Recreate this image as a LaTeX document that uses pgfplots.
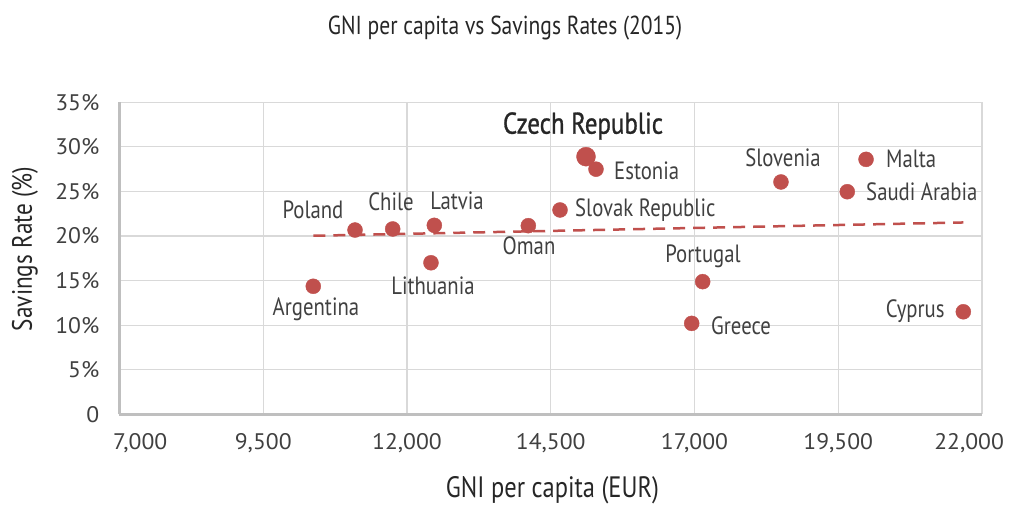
\documentclass[border=0pt]{standalone}
\usepackage{fontspec}
\setmainfont{PT Sans}[FakeStretch=0.83]
\newfontfamily\tickfont{PT Sans}[FakeStretch=1.05]
\newfontfamily\medfont{PT Sans}[FakeStretch=0.83, FakeBold=1]
\usepackage{pgfplots}
\pgfplotsset{compat=1.18}
\definecolor{dotred}{HTML}{C0504D}
\definecolor{txt}{HTML}{404040}
\definecolor{ttl}{HTML}{262626}
\definecolor{gridc}{HTML}{D9D9D9}
\definecolor{axc}{HTML}{BFBFBF}
\newcommand{\lab}{\fontsize{25}{29}\selectfont}
\newcommand{\tck}{\tickfont\fontsize{22.5}{26}\selectfont}
\begin{document}
\begin{tikzpicture}[x=1pt,y=1pt]
\useasboundingbox (-119.5,-90.7) rectangle (891.5,414.3);
\begin{axis}[
  scale only axis, width=862.5pt, height=312pt,
  xmin=7000, xmax=22000, ymin=0, ymax=35,
  scaled x ticks=false, scaled y ticks=false,
  xtick={7000,9500,12000,14500,17000,19500,22000},
  ytick={0,5,10,15,20,25,30,35},
  xticklabels={{\hphantom{7,00}7,000},{9,500},{12,000},{14,500},{17,000},{19,500},{22,000\hphantom{00}}},
  yticklabels={0,5\%,10\%,15\%,20\%,25\%,30\%,35\%},
  axis lines=left,
  axis line style={-, axc, line width=2.5pt},
  grid=major,
  major grid style={gridc, line width=1.2pt},
  major tick length=0pt,
  xticklabel style={font=\tck, text=txt, inner sep=0pt, anchor=north, yshift=-19pt},
  yticklabel style={font=\tck, text=txt, inner sep=0pt, anchor=east, xshift=-20pt},
  clip=false,
]
\addplot[dotred, dash pattern=on 12pt off 8pt, line width=2.5pt] coordinates {(10370,20.03) (21675,21.52)};
\addplot[only marks, mark=*, mark size=7.5pt, mark options={draw=dotred, fill=dotred}] coordinates {
(10370,14.36) (11096,20.67) (11751,20.79) (12475,21.2) (12417,17.0)
(14110,21.16) (14661,22.92) (15287,27.5) (18504,26.06) (19983,28.6)
(19657,24.97) (17142,14.88) (16951,10.2) (21675,11.5)};
\addplot[only marks, mark=*, mark size=9.5pt, mark options={draw=dotred, fill=dotred}] coordinates {(15113,28.9)};
\begin{scope}[every node/.style={font=\lab, text=txt, inner sep=0pt}]
\node at (axis cs:10417,11.81) {Argentina};
\node at (axis cs:10365,22.93) {Poland};
\node at (axis cs:11722,23.83) {Chile};
\node at (axis cs:12870,23.95) {Latvia};
\node at (axis cs:12452,14.39) {Lithuania};
\node at (axis cs:14122,18.88) {Oman};
\node[anchor=west] at (axis cs:14922,22.92) {Slovak Republic};
\node[anchor=west] at (axis cs:15600,27.29) {Estonia};
\node at (axis cs:18539,28.75) {Slovenia};
\node[anchor=west] at (axis cs:20330,28.63) {Malta};
\node[anchor=west] at (axis cs:19983,24.95) {Saudi Arabia};
\node at (axis cs:17148,17.76) {Portugal};
\node[anchor=west] at (axis cs:17287,9.91) {Greece};
\node[anchor=east] at (axis cs:21354,11.59) {Cyprus};
\end{scope}
\node[font=\medfont\fontsize{30}{34}\selectfont, text=ttl, inner sep=0pt] at (axis cs:15061,32.34) {Czech Republic};
\node[font=\fontsize{26}{30}\selectfont, text=ttl, inner sep=0pt] at (rel axis cs:0.447,1.238) {GNI per capita vs Savings Rates (2015)};
\node[font=\fontsize{29.5}{33}\selectfont, text=ttl, inner sep=0pt] at (rel axis cs:0.502,-0.243) {GNI per capita (EUR)};
\node[font=\fontsize{28}{32}\selectfont, text=ttl, inner sep=0pt, rotate=90] at (rel axis cs:-0.1096,0.53) {Savings Rate (\%)};
\end{axis}
\end{tikzpicture}
\end{document}
